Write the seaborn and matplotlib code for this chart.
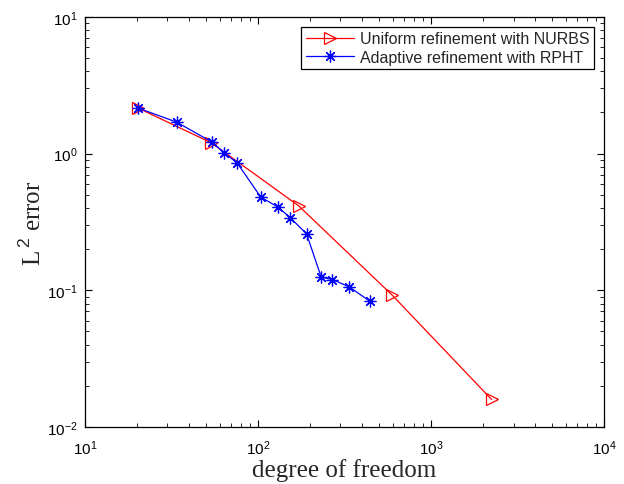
import numpy as np
import pandas as pd
import matplotlib
matplotlib.use("Agg")
import matplotlib.pyplot as plt
import seaborn as sns
from matplotlib.ticker import LogLocator, LogFormatterMathtext, NullFormatter

# degrees of freedom and L2 error
dof_uniform = [20.2, 53.8, 172, 597, 2240]
err_uniform = [2.16, 1.20, 0.415, 0.0922, 0.0159]

dof_adaptive = [20.2, 33.9, 54.6, 64.0, 75.8, 104, 130, 154, 191, 232, 269, 337, 442]
err_adaptive = [2.16, 1.70, 1.21, 1.01, 0.856, 0.480, 0.408, 0.339, 0.259,
                0.125, 0.120, 0.106, 0.0834]

label_uniform = "Uniform refinement with NURBS"
label_adaptive = "Adaptive refinement with RPHT"

sns.set_style("ticks")
plt.rcParams['font.family'] = ['Liberation Sans', 'DejaVu Sans']
plt.rcParams['mathtext.fontset'] = 'custom'
plt.rcParams['mathtext.rm'] = 'Liberation Sans'

fig = plt.figure(figsize=(6.24, 4.85), dpi=100)
ax = fig.add_axes([0.136, 0.1175, 0.832, 0.8455])

df_u = pd.DataFrame({'dof': dof_uniform, 'err': err_uniform})
df_a = pd.DataFrame({'dof': dof_adaptive, 'err': err_adaptive})

sns.lineplot(data=df_u, x='dof', y='err', ax=ax, color='#ff0000', lw=0.9,
             marker='>', markersize=9, markerfacecolor='none',
             markeredgecolor='#ff0000', markeredgewidth=0.9, label=label_uniform)
sns.lineplot(data=df_a, x='dof', y='err', ax=ax, color='#0000ff', lw=0.9,
             marker=(8, 2, 0), markersize=8.5, markeredgecolor='#0000ff',
             markeredgewidth=0.9, label=label_adaptive)

ax.set_xscale('log')
ax.set_yscale('log')
ax.set_xlim(10, 1e4)
ax.set_ylim(1e-2, 1e1)

for axis in (ax.xaxis, ax.yaxis):
    axis.set_major_locator(LogLocator(base=10, numticks=10))
    axis.set_minor_locator(LogLocator(base=10, subs=np.arange(2, 10), numticks=10))
    axis.set_major_formatter(LogFormatterMathtext())
    axis.set_minor_formatter(NullFormatter())

ax.tick_params(which='both', direction='in', top=True, right=True, colors='black',
               labelsize=11)
ax.tick_params(which='major', length=5, width=0.8)
ax.tick_params(which='minor', length=3, width=0.6)
ax.tick_params(axis='x', pad=8)
ax.tick_params(axis='y', pad=5)
for s in ax.spines.values():
    s.set_color('black')
    s.set_linewidth(0.9)

ax.set_xlabel('degree of freedom', family='Liberation Serif', fontsize=18, labelpad=1)
ax.set_ylabel(r'L$^{\,2}$ error', family='Liberation Serif', fontsize=18, labelpad=1)

leg = ax.legend(loc='upper right', fontsize=11.5, frameon=True, fancybox=False,
                edgecolor='black', framealpha=1, borderaxespad=0.6,
                handlelength=3.0, handletextpad=0.4, borderpad=0.3,
                labelspacing=0.2)
leg.get_frame().set_linewidth(0.9)

fig.savefig('out.png', dpi=100)
